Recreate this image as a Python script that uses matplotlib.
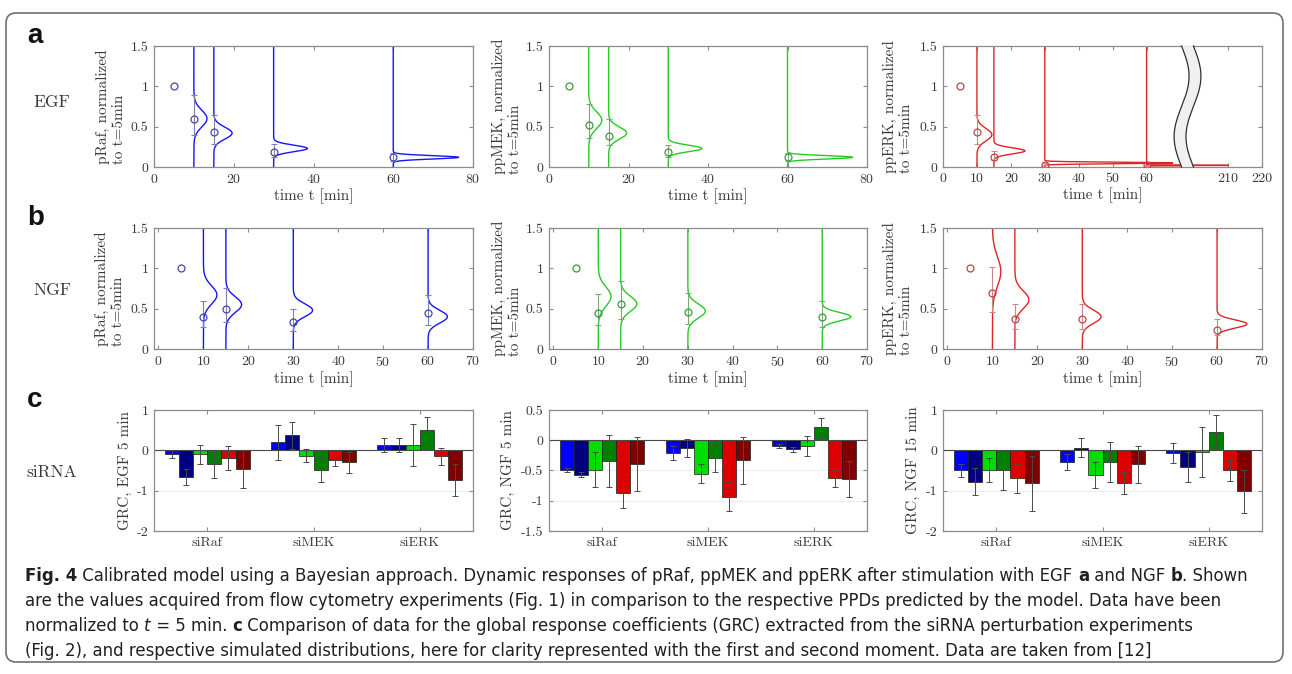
import numpy as np
import matplotlib
matplotlib.use('Agg')
import matplotlib.pyplot as plt
import matplotlib.transforms as mtransforms
from matplotlib.patches import FancyBboxPatch

plt.rcParams['font.family'] = 'cmr10'
plt.rcParams['mathtext.fontset'] = 'cm'
plt.rcParams['axes.unicode_minus'] = False
plt.rcParams['axes.formatter.use_mathtext'] = True

W, H = 1292, 674

# -- measured time courses (normalized to t=5 min) ---------------------------
t_obs = [5, 10, 15, 30, 60]
t_ppd = [10, 15, 30, 60]

egf_raf_mean = [1.0, 0.60, 0.44, 0.19, 0.12]
egf_raf_lo = [1.0, 0.40, 0.29, 0.13, 0.08]
egf_raf_hi = [1.0, 0.89, 0.65, 0.29, 0.17]
egf_mek_mean = [1.0, 0.52, 0.39, 0.18, 0.12]
egf_mek_lo = [1.0, 0.36, 0.27, 0.13, 0.08]
egf_mek_hi = [1.0, 0.78, 0.59, 0.27, 0.17]
egf_erk_mean = [1.0, 0.43, 0.13, 0.03, 0.02]
egf_erk_lo = [1.0, 0.29, 0.09, 0.02, 0.015]
egf_erk_hi = [1.0, 0.65, 0.20, 0.045, 0.03]

ngf_raf_mean = [1.0, 0.40, 0.50, 0.33, 0.45]
ngf_raf_lo = [1.0, 0.27, 0.34, 0.22, 0.30]
ngf_raf_hi = [1.0, 0.60, 0.75, 0.50, 0.67]
ngf_mek_mean = [1.0, 0.45, 0.56, 0.46, 0.40]
ngf_mek_lo = [1.0, 0.30, 0.37, 0.31, 0.27]
ngf_mek_hi = [1.0, 0.68, 0.84, 0.70, 0.60]
ngf_erk_mean = [1.0, 0.69, 0.37, 0.37, 0.24]
ngf_erk_lo = [1.0, 0.46, 0.25, 0.25, 0.17]
ngf_erk_hi = [1.0, 1.02, 0.56, 0.56, 0.37]

# -- posterior predictive distributions (mean, sd) at each time -------------
egf_raf_mu = [0.60, 0.42, 0.23, 0.12]
egf_raf_sd = [0.103, 0.074, 0.040, 0.0207]
egf_mek_mu = [0.58, 0.42, 0.23, 0.12]
egf_mek_sd = [0.103, 0.075, 0.040, 0.0207]
egf_erk_mu = [0.40, 0.20, 0.05, 0.02]
egf_erk_sd = [0.077, 0.037, 0.009, 0.00226]

ngf_raf_mu = [0.67, 0.55, 0.48, 0.40]
ngf_raf_sd = [0.113, 0.097, 0.079, 0.079]
ngf_mek_mu = [0.65, 0.56, 0.47, 0.40]
ngf_mek_sd = [0.119, 0.094, 0.087, 0.053]
ngf_erk_mu = [0.96, 0.61, 0.40, 0.31]
ngf_erk_sd = [0.182, 0.109, 0.081, 0.051]

PPD_SCALE = 0.85

# -- global response coefficients, rows = siRaf / siMEK / siERK -------------
groups = ['siRaf', 'siMEK', 'siERK']
grc_egf5 = [[-0.10, -0.67, -0.10, -0.33, -0.20, -0.47],
            [0.20, 0.37, -0.13, -0.48, -0.23, -0.30],
            [0.14, 0.14, 0.13, 0.50, -0.15, -0.73]]
grc_egf5_err = [[0.10, 0.20, 0.23, 0.35, 0.30, 0.47],
                [0.44, 0.33, 0.17, 0.30, 0.17, 0.25],
                [0.17, 0.17, 0.53, 0.33, 0.21, 0.40]]
grc_ngf5 = [[-0.49, -0.57, -0.49, -0.35, -0.88, -0.39],
            [-0.21, -0.13, -0.55, -0.29, -0.93, -0.33],
            [-0.09, -0.15, -0.09, 0.22, -0.63, -0.64]]
grc_ngf5_err = [[0.03, 0.04, 0.29, 0.43, 0.24, 0.45],
                [0.11, 0.15, 0.15, 0.23, 0.24, 0.39],
                [0.035, 0.045, 0.165, 0.145, 0.135, 0.29]]
grc_ngf15 = [[-0.50, -0.78, -0.49, -0.48, -0.69, -0.82],
             [-0.29, 0.07, -0.61, -0.29, -0.81, -0.35],
             [-0.07, -0.42, -0.04, 0.45, -0.49, -1.02]]
grc_ngf15_err = [[0.17, 0.33, 0.30, 0.50, 0.36, 0.69],
                 [0.21, 0.23, 0.33, 0.49, 0.28, 0.45],
                 [0.24, 0.37, 0.62, 0.43, 0.26, 0.53]]
bar_colors = ['#0000ff', '#000080', '#00dd00', '#008000', '#dd0000', '#800000']

SPINE = '#8c8c8c'
TXT = '#3a3a3a'

fig = plt.figure(figsize=(W / 100, H / 100), dpi=100)


def px_axes(x0, x1, ytop, ybot):
    return fig.add_axes([x0 / W, 1 - ybot / H, (x1 - x0) / W, (ybot - ytop) / H])


def style(ax):
    ax.tick_params(direction='in', top=True, right=True, length=3, width=0.8,
                   color=SPINE, labelcolor=TXT, labelsize=10, pad=4)
    for s in ax.spines.values():
        s.set_color(SPINE)
        s.set_linewidth(0.9)


def ppd_curve(t, mu, sd):
    y = np.sort(np.concatenate([np.linspace(0, 1.5, 1500),
                                np.linspace(max(mu - 8 * sd, 0), mu + 8 * sd, 600)]))
    x = t + PPD_SCALE * np.exp(-0.5 * ((y - mu) / sd) ** 2) / (sd * np.sqrt(2 * np.pi))
    return x, y


def time_panel(ax, mean, lo, hi, mu, sd, lc, mc, ec, xmap=None):
    for t, m, s in zip(t_ppd, mu, sd):
        x, y = ppd_curve(t, m, s)
        if xmap is not None:
            x = xmap(x)
        ax.plot(x, y, color=lc, lw=1.0, zorder=2)
    mean = np.array(mean)
    tt = np.array(t_obs, dtype=float)
    if xmap is not None:
        tt = xmap(tt)
    yerr = [mean[1:] - np.array(lo[1:]), np.array(hi[1:]) - mean[1:]]
    ax.errorbar(tt[1:], mean[1:], yerr=yerr, fmt='none', ecolor=ec,
                elinewidth=0.8, capsize=2.5, capthick=0.8, zorder=3)
    ax.plot(tt, mean, 'o', mfc='none', mec=mc, ms=5, mew=0.9, zorder=4)
    ax.set_ylim(0, 1.5)
    ax.set_yticks([0, 0.5, 1, 1.5])
    ax.set_yticklabels(['0', '0.5', '1', '1.5'])
    ax.set_xlabel('time t [min]', fontsize=11, color=TXT, labelpad=2)
    style(ax)


def ylab(ax, text, xpos, size=11):
    ax.set_ylabel(text, fontsize=size, color=TXT, multialignment='left')
    ax.yaxis.set_label_coords(xpos, 0.5)


cols = [(154, 473), (549, 867), (943, 1262)]
row_a = (46, 167)
row_b = (228, 349)
row_c = (410, 531)

blue = ('#1414ff', '#4848a8', '#8080b0')
green = ('#22cc22', '#3c9a3c', '#78aa78')
red = ('#e02424', '#b84848', '#c88888')

# -- row a: EGF ---------------------------------------------------------------
ax = px_axes(*cols[0], *row_a)
time_panel(ax, egf_raf_mean, egf_raf_lo, egf_raf_hi, egf_raf_mu, egf_raf_sd, *blue)
ax.set_xlim(0, 80)
ax.set_xticks([0, 20, 40, 60, 80])
ylab(ax, 'pRaf, normalized\nto t=5min', -0.088)

ax = px_axes(*cols[1], *row_a)
time_panel(ax, egf_mek_mean, egf_mek_lo, egf_mek_hi, egf_mek_mu, egf_mek_sd, *green)
ax.set_xlim(0, 80)
ax.set_xticks([0, 20, 40, 60, 80])
ylab(ax, 'ppMEK, normalized\nto t=5min', -0.085)


# broken time axis: 0-72 drawn as is, 198-220 shifted left by 126
def erk_break(x):
    x = np.asarray(x, dtype=float)
    out = np.where(x >= 198, x - 126, x)
    return np.where((x > 72) & (x < 198), np.nan, out)


ax = px_axes(*cols[2], *row_a)
time_panel(ax, egf_erk_mean, egf_erk_lo, egf_erk_hi, egf_erk_mu, egf_erk_sd, *red,
           xmap=erk_break)
ax.set_xlim(0, 94)
ax.set_xticks([0, 10, 20, 30, 40, 50, 60, 84, 94])
ax.set_xticklabels(['0', '10', '20', '30', '40', '50', '60', '210', '220'])
ylab(ax, 'ppERK, normalized\nto t=5min', -0.094)
fy = np.linspace(0, 1, 200)
wig = 70.3 - 2.2 * np.sin(2 * np.pi * fy)
tr = mtransforms.blended_transform_factory(ax.transData, ax.transAxes)
ax.fill_betweenx(fy, wig, wig + 3.5, facecolor='#f0f0f0', edgecolor='none',
                 transform=tr, zorder=6, clip_on=False)
ax.plot(wig, fy, color='#303030', lw=0.9, transform=tr, zorder=7, clip_on=False)
ax.plot(wig + 3.5, fy, color='#303030', lw=0.9, transform=tr, zorder=7, clip_on=False)

# -- row b: NGF ---------------------------------------------------------------
for (c0, c1), data, cl, lab, lx in zip(
        cols,
        [(ngf_raf_mean, ngf_raf_lo, ngf_raf_hi, ngf_raf_mu, ngf_raf_sd),
         (ngf_mek_mean, ngf_mek_lo, ngf_mek_hi, ngf_mek_mu, ngf_mek_sd),
         (ngf_erk_mean, ngf_erk_lo, ngf_erk_hi, ngf_erk_mu, ngf_erk_sd)],
        [blue, green, red],
        ['pRaf, normalized\nto t=5min', 'ppMEK, normalized\nto t=5min',
         'ppERK, normalized\nto t=5min'],
        [-0.091, -0.085, -0.094]):
    ax = px_axes(c0, c1, *row_b)
    time_panel(ax, *data, *cl)
    ax.set_xlim(-1, 70)
    ax.set_xticks(range(0, 71, 10))
    ylab(ax, lab, lx)

# -- row c: siRNA GRC bars ----------------------------------------------------
bar_w = 0.8 / 6
for (c0, c1), vals, errs, ylim, yt, ytl, lab, lx in zip(
        cols,
        [grc_egf5, grc_ngf5, grc_ngf15],
        [grc_egf5_err, grc_ngf5_err, grc_ngf15_err],
        [(-2, 1), (-1.5, 0.5), (-2, 1)],
        [[-2, -1, 0, 1], [-1.5, -1, -0.5, 0, 0.5], [-2, -1, 0, 1]],
        [['-2', '-1', '0', '1'], ['-1.5', '-1', '-0.5', '0', '0.5'], ['-2', '-1', '0', '1']],
        ['GRC, EGF 5 min', 'GRC, NGF 5 min', 'GRC, NGF 15 min'],
        [-0.07, -0.107, -0.072]):
    ax = px_axes(c0, c1, *row_c)
    xg = np.arange(1, 4)
    for i in range(6):
        xi = xg + (i - 2.5) * bar_w
        v = [vals[g][i] for g in range(3)]
        e = [errs[g][i] for g in range(3)]
        ax.bar(xi, v, width=bar_w, color=bar_colors[i], edgecolor='#1a1a1a',
               linewidth=0.5, zorder=2)
        ax.errorbar(xi, v, yerr=e, fmt='none', ecolor='#4a4a4a', elinewidth=0.7,
                    capsize=2, capthick=0.7, zorder=3)
    ax.axhline(0, color='#4a4a4a', lw=0.8, zorder=2.5)
    ax.set_xlim(0.5, 3.5)
    ax.set_ylim(*ylim)
    ax.set_yticks(yt)
    ax.set_yticklabels(ytl)
    ax.set_xticks(xg)
    ax.set_xticklabels(groups)
    ax.grid(axis='y', color='#ececec', lw=0.8, zorder=0)
    ax.set_axisbelow(True)
    style(ax)
    ylab(ax, lab, lx)

# -- panel letters and row labels -------------------------------------------
for letter, yb in zip('abc', [43, 225, 407]):
    fig.text(27 / W, 1 - yb / H, letter, fontsize=20, fontweight='bold',
             family=['Liberation Sans', 'DejaVu Sans'], va='baseline', color='#111111')
for lab, yc in zip(['EGF', 'NGF', 'siRNA'], [102, 290, 472]):
    fig.text(52 / W, 1 - yc / H, lab, fontsize=12.5, ha='center', va='center', color=TXT)

# -- outer frame --------------------------------------------------------------
frame = FancyBboxPatch((6, 12), 1277, 649, boxstyle='round,pad=0,rounding_size=10',
                       transform=mtransforms.IdentityTransform(), facecolor='none',
                       edgecolor='#707070', lw=1.2)
fig.patches.append(frame)

# -- caption ------------------------------------------------------------------
cap_font = dict(family=['Liberation Sans Narrow', 'DejaVu Sans'], fontstretch='condensed',
                color='#231f20')
renderer = fig.canvas.get_renderer()
B = dict(fontweight='bold')
N = dict()
I = dict(fontstyle='italic')
CAP_X0 = 25

caption = [
    ([('Fig. 4', B),
      (' Calibrated model using a Bayesian approach. Dynamic responses of pRaf, '
       'ppMEK and ppERK after stimulation with EGF ', N),
      ('a', B), (' and NGF ', N), ('b', B), ('. Shown', N)], 581, 1262),
    ([('are the values acquired from flow cytometry experiments (Fig. 1) in comparison '
       'to the respective PPDs predicted by the model. Data have been', N)], 606, 1231),
    ([('normalized to ', N), ('t', I), (' = 5 min. ', N), ('c', B),
      (' Comparison of data for the global response coefficients (GRC) extracted '
       'from the siRNA perturbation experiments', N)], 631, 1176),
    ([('(Fig. 2), and respective simulated distributions, here for clarity represented '
       'with the first and second moment. Data are taken from [12]', N)], 656, 1003),
]


def run_width(s, size, **kw):
    a = fig.text(0, 0, s + '.', fontsize=size, **cap_font, **kw)
    b = fig.text(0, 0, '.', fontsize=size, **cap_font, **kw)
    w = a.get_window_extent(renderer).width - b.get_window_extent(renderer).width
    a.remove()
    b.remove()
    return w


# one common size, picked so the lines end where the set text ends on average
fits = []
for runs, _, x_end in caption:
    total = sum(run_width(s, 11.5, **kw) for s, kw in runs)
    fits.append(11.5 * (x_end - CAP_X0) / total)
cap_size = float(np.median(fits))

for runs, y_base, _ in caption:
    x = CAP_X0
    for s, kw in runs:
        fig.text(x / W, 1 - y_base / H, s, fontsize=cap_size, va='baseline', **cap_font, **kw)
        x += run_width(s, cap_size, **kw)

fig.savefig('out.png', dpi=100)
